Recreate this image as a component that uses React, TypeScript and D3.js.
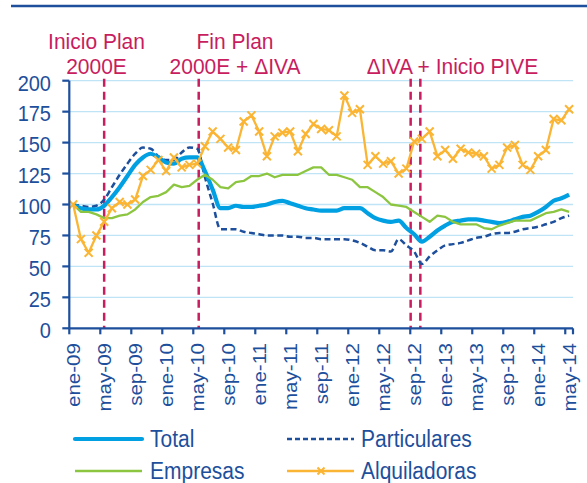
import React from "react";
import * as d3 from "d3";

const monthNames = ["ene", "feb", "mar", "abr", "may", "jun", "jul", "ago", "sep", "oct", "nov", "dic"];
const years = ["09", "10", "11", "12", "13", "14"];
const categories: string[] = [];
years.forEach((yy) => monthNames.forEach((m) => categories.push(`${m}-${yy}`)));
categories.splice(categories.indexOf("may-14") + 1);

const total = [100, 97, 96, 96, 99, 106, 114, 123, 132, 138, 141, 138, 134, 133, 137, 138, 138, 127, 112, 97,
  97, 99, 98, 98, 99, 100, 102, 103, 101, 99, 97, 96, 95, 95, 95, 97, 97, 97, 93, 89,
  87, 86, 87, 81, 76, 70, 74, 79, 83, 86, 87, 88, 88, 87, 86, 85, 86, 88, 90, 91,
  94, 98, 103, 105, 108];
const particulares = [100, 99, 98, 99, 104, 114, 124, 133, 141, 146, 145, 139, 136, 136, 142, 146, 145, 122, 101, 80,
  80, 80, 78, 77, 76, 75, 75, 75, 74, 74, 73, 73, 72, 72, 72, 72, 71, 69, 66, 63,
  63, 62, 72, 67, 62, 52, 58, 63, 67, 68, 69, 71, 73, 74, 76, 77, 77, 78, 80, 81,
  82, 84, 86, 89, 91];
const empresas = [100, 94, 94, 92, 89, 89, 91, 92, 96, 102, 106, 107, 110, 116, 114, 115, 120, 124, 120, 114,
  113, 118, 119, 123, 123, 125, 122, 124, 124, 124, 127, 130, 130, 124, 124, 122, 120, 114, 114, 110,
  106, 100, 99, 98, 94, 90, 86, 91, 90, 86, 84, 84, 84, 81, 80, 83, 85, 87, 87, 87,
  90, 93, 94, 96, 94];
const alquiladoras = [100, 72, 61, 75, 86, 97, 102, 100, 104, 123, 128, 136, 127, 138, 130, 132, 133, 147, 159, 153,
  146, 144, 167, 172, 159, 139, 155, 158, 159, 143, 157, 165, 161, 160, 155, 188, 174, 177, 132, 139,
  133, 135, 125, 129, 151, 153, 159, 139, 144, 137, 145, 142, 141, 139, 129, 132, 146, 148, 132, 128,
  139, 144, 169, 168, 177];

const yTicks = [0, 25, 50, 75, 100, 125, 150, 175, 200];
const events = [
  { cat: "may-09", frac: 0.5 },
  { cat: "may-10", frac: 0.7 },
  { cat: "sep-12", frac: 0.05 },
  { cat: "oct-12", frac: 0.3 },
];
const annotations = [
  { lines: ["Inicio Plan", "2000E"], cx: 96.5 },
  { lines: ["Fin Plan", "2000E + \u0394IVA"], cx: 235 },
  { lines: ["\u0394IVA + Inicio PIVE"], cx: 452.5, startLine: 1 },
];

const BLUE = "#1D4F9C";
const CYAN = "#00A0E2";
const GREEN = "#8CC540";
const ORANGE = "#FBB534";
const CRIMSON = "#C81D5E";
const GRID = "#BFE4F5";
const FONT = "'Liberation Sans', Arial, sans-serif";

const W = 587, H = 483;
const left = 69.3, right = 573, top = 80.7, bottom = 328.3;

export default function App() {
  const x = d3.scaleBand<string>().domain(categories).range([left, right]).paddingInner(0).paddingOuter(0);
  const bw = x.bandwidth();
  const cx = (i: number) => (x(categories[i]) as number) + bw / 2;
  const y = d3.scaleLinear().domain([0, 200]).range([bottom, top]);

  const smooth = d3.line<number>().x((_, i) => cx(i)).y((d) => y(d)).curve(d3.curveMonotoneX);
  const straight = d3.line<number>().x((_, i) => cx(i)).y((d) => y(d));

  const cross = (px: number, py: number, s: number, key: any) => (
    <path key={key} d={`M${px - s},${py - s}L${px + s},${py + s}M${px - s},${py + s}L${px + s},${py - s}`}
      stroke={ORANGE} strokeWidth={2} fill="none" />
  );

  const sy = 1.1;

  return (
    <svg width={W} height={H} style={{ position: "absolute", left: 0, top: 0, background: "#fff" }} fontFamily={FONT}>
      <line x1={11} x2={587} y1={6} y2={6} stroke={BLUE} strokeWidth={2.5} />
      {/* grid */}
      {yTicks.filter((t) => t > 0).map((t) => (
        <line key={t} x1={left} x2={right} y1={y(t)} y2={y(t)} stroke={GRID} strokeWidth={1.3} />
      ))}
      {/* event lines */}
      {events.map((e, k) => {
        const ex = (x(e.cat) as number) + e.frac * bw;
        return <line key={k} x1={ex} x2={ex} y1={top - 2} y2={bottom} stroke={CRIMSON} strokeWidth={2.5} strokeDasharray="8,5" />;
      })}
      {/* annotations */}
      {annotations.map((a, k) =>
        a.lines.map((ln, j) => {
          const row = (a.startLine || 0) + j;
          return (
            <g key={`${k}-${j}`} transform={`translate(${a.cx},${49 + row * 25}) scale(1,1.07)`}>
              <text textAnchor="middle" fontSize={21} fill={CRIMSON}>{ln}</text>
            </g>
          );
        })
      )}
      {/* series */}
      <path d={smooth(particulares) || ""} fill="none" stroke={BLUE} strokeWidth={2.5} strokeDasharray="6,3.5" />
      <path d={smooth(total) || ""} fill="none" stroke={CYAN} strokeWidth={4.2} strokeLinejoin="round" />
      <path d={straight(empresas) || ""} fill="none" stroke={GREEN} strokeWidth={2.3} strokeLinejoin="round" />
      <path d={straight(alquiladoras) || ""} fill="none" stroke={ORANGE} strokeWidth={2.3} strokeLinejoin="round" />
      {alquiladoras.map((v, i) => cross(cx(i), y(v), 4, i))}
      {/* axes */}
      <line x1={left} x2={left} y1={top} y2={bottom} stroke={BLUE} strokeWidth={2.2} />
      {yTicks.map((t) => (
        <g key={t}>
          <line x1={left - 7} x2={left} y1={y(t)} y2={y(t)} stroke={BLUE} strokeWidth={2.2} />
          <g transform={`translate(51,${y(t) + 2}) scale(1,${sy})`}>
            <text textAnchor="end" dominantBaseline="central" fontSize={20} fill={BLUE}>{t}</text>
          </g>
        </g>
      ))}
      <line x1={left} x2={right} y1={bottom} y2={bottom} stroke={BLUE} strokeWidth={2.2} />
      {categories.map((c, i) => i % 4 === 0 ? (
        <line key={c} x1={x(c) as number} x2={x(c) as number} y1={bottom} y2={bottom + 6} stroke={BLUE} strokeWidth={2.2} />
      ) : null)}
      <line x1={right} x2={right} y1={bottom} y2={bottom + 6} stroke={BLUE} strokeWidth={2.2} />
      {categories.map((c, i) => i % 4 === 0 ? (
        <g key={"l" + c} transform={`translate(${cx(i)},343) scale(1,${sy}) rotate(-90)`}>
          <text textAnchor="end" dy="0.35em" fontSize={18.7} fill={BLUE}>{c}</text>
        </g>
      ) : null)}
      {/* legend */}
      <line x1={75} x2={142} y1={439} y2={439} stroke={CYAN} strokeWidth={4.2} strokeLinecap="round" />
      <line x1={287} x2={354} y1={439} y2={439} stroke={BLUE} strokeWidth={2.5} strokeDasharray="5,3" />
      <line x1={75} x2={142} y1={471} y2={471} stroke={GREEN} strokeWidth={2.5} />
      <line x1={287} x2={354} y1={471} y2={471} stroke={ORANGE} strokeWidth={2.5} />
      {cross(321, 471, 3.5, "lg")}
      {[
        { t: "Total", x: 150, y: 439 },
        { t: "Particulares", x: 361, y: 439 },
        { t: "Empresas", x: 150, y: 471 },
        { t: "Alquiladoras", x: 361, y: 471 },
      ].map((l) => (
        <g key={l.t} transform={`translate(${l.x},${l.y}) scale(1,${sy})`}>
          <text dominantBaseline="central" fontSize={21} fill={BLUE}>{l.t}</text>
        </g>
      ))}
    </svg>
  );
}
